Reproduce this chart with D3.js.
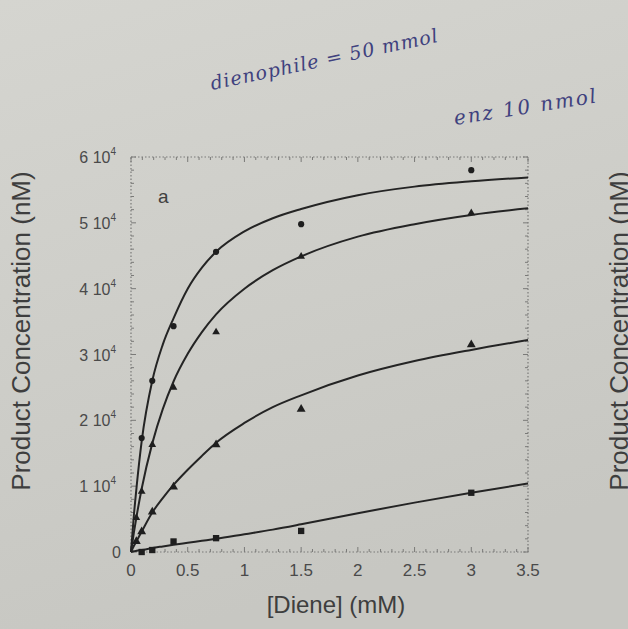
<!DOCTYPE html>
<html>
<head>
<meta charset="utf-8">
<script src="https://cdn.jsdelivr.net/npm/d3@7"></script>
<style>
  html, body { margin: 0; padding: 0; }
  body { width: 628px; height: 629px; overflow: hidden; }
  svg { display: block; }
</style>
</head>
<body>
<svg id="chart" width="628" height="629"></svg>
<script>
// diene concentrations (mM) where points were measured
const conc = [0.047, 0.094, 0.1875, 0.375, 0.75, 1.5, 3];

// measured product (x 10^4 nM), null = no marker visible
const pts1 = [null, 1.73, 2.6, 3.43, 4.56, 4.98, 5.8];
const pts2 = [0.52, 0.92, 1.63, 2.5, 3.34, 4.49, 5.15];
const pts3 = [0.16, 0.31, 0.61, 0.99, 1.63, 2.17, 3.15];
const pts4 = [null, 0.0, 0.03, 0.16, 0.21, 0.32, 0.9];

// fitted curves (x 10^4 nM)
const fitX = [0, 0.025, 0.05, 0.094, 0.1875, 0.28, 0.375, 0.5, 0.625, 0.75, 1, 1.25, 1.5, 2, 2.5, 3, 3.5];
const fit1 = [0, 0.55, 1.0, 1.68, 2.6, 3.15, 3.55, 4.0, 4.32, 4.56, 4.87, 5.07, 5.21, 5.42, 5.55, 5.63, 5.69];
const fit2 = [0, 0.29, 0.55, 0.96, 1.65, 2.17, 2.59, 3.01, 3.34, 3.61, 4.0, 4.28, 4.49, 4.79, 4.98, 5.12, 5.22];
const fit3 = [0, 0.09, 0.17, 0.31, 0.6, 0.82, 1.02, 1.25, 1.46, 1.66, 1.96, 2.2, 2.38, 2.68, 2.9, 3.07, 3.22];
const fit4 = [0, 0.01, 0.02, 0.03, 0.06, 0.085, 0.11, 0.14, 0.17, 0.2, 0.27, 0.34, 0.42, 0.59, 0.75, 0.9, 1.04];

const xTicks = [0, 0.5, 1, 1.5, 2, 2.5, 3, 3.5];
const xTickLabels = ["0", "0.5", "1", "1.5", "2", "2.5", "3", "3.5"];
const yTicks = [0, 1, 2, 3, 4, 5, 6];

const svg = d3.select("#chart");

// paper background
const defs = svg.append("defs");
const grad = defs.append("linearGradient")
  .attr("id", "paper")
  .attr("x1", 0).attr("y1", 0).attr("x2", 0.3).attr("y2", 1);
grad.append("stop").attr("offset", "0%").attr("stop-color", "#d5d5d0");
grad.append("stop").attr("offset", "100%").attr("stop-color", "#c7c7c2");
svg.append("rect").attr("width", 628).attr("height", 629).attr("fill", "url(#paper)");

const x = d3.scaleLinear().domain([0, 3.5]).range([131, 528]);
const y = d3.scaleLinear().domain([0, 6]).range([552, 157]);

const frameColor = "#7a7a78";
const g = svg.append("g");

// dotted frame
g.append("rect")
  .attr("x", x(0)).attr("y", y(6))
  .attr("width", x(3.5) - x(0)).attr("height", y(0) - y(6))
  .attr("fill", "none")
  .attr("stroke", frameColor)
  .attr("stroke-width", 1.2)
  .attr("stroke-dasharray", "1.5,2");

// inward ticks on all four sides
const xMinor = d3.range(0, 3.501, 0.1);
const yMinor = d3.range(0, 6.001, 0.2);
const tickG = g.append("g").attr("stroke", frameColor).attr("stroke-width", 1);
const isMajor = (v, step) => Math.abs(v / step - Math.round(v / step)) < 1e-6;

xMinor.forEach((v) => {
  const len = isMajor(v, 0.5) ? 5 : 3;
  tickG.append("line").attr("x1", x(v)).attr("x2", x(v)).attr("y1", y(0)).attr("y2", y(0) - len);
  tickG.append("line").attr("x1", x(v)).attr("x2", x(v)).attr("y1", y(6)).attr("y2", y(6) + len);
});
yMinor.forEach((v) => {
  const len = isMajor(v, 1) ? 5 : 3;
  tickG.append("line").attr("y1", y(v)).attr("y2", y(v)).attr("x1", x(0)).attr("x2", x(0) + len);
  tickG.append("line").attr("y1", y(v)).attr("y2", y(v)).attr("x1", x(3.5)).attr("x2", x(3.5) - len);
});

// tick labels
const labelColor = "#4a4a4a";
g.append("g").selectAll("text")
  .data(xTicks)
  .enter()
  .append("text")
  .attr("x", (d) => x(d))
  .attr("y", 576)
  .attr("text-anchor", "middle")
  .attr("font-family", "Liberation Sans, Arial, sans-serif")
  .attr("font-size", 17)
  .attr("fill", labelColor)
  .text((d, i) => xTickLabels[i]);

const yLab = g.append("g").selectAll("text")
  .data(yTicks)
  .enter()
  .append("text")
  .attr("x", (d) => (d === 0 ? 121 : 116))
  .attr("y", (d) => y(d) + 6)
  .attr("text-anchor", "end")
  .attr("font-family", "Liberation Sans, Arial, sans-serif")
  .attr("font-size", 16)
  .attr("fill", labelColor);
yLab.filter((d) => d === 0).text("0");
yLab.filter((d) => d !== 0).each(function (d) {
  const t = d3.select(this);
  t.append("tspan").text(d + " 10");
  t.append("tspan").attr("font-size", 10).attr("dy", -8).text("4");
});

// axis titles
g.append("text")
  .attr("x", 336).attr("y", 613)
  .attr("text-anchor", "middle")
  .attr("font-family", "Liberation Sans, Arial, sans-serif")
  .attr("font-size", 24)
  .attr("fill", "#3e3e3e")
  .text("[Diene] (mM)");

const yTitle = (cx) => g.append("text")
  .attr("transform", `translate(${cx},331) rotate(-90)`)
  .attr("text-anchor", "middle")
  .attr("font-family", "Liberation Sans, Arial, sans-serif")
  .attr("font-size", 26)
  .attr("fill", "#3e3e3e")
  .text("Product Concentration (nM)");
yTitle(30);
yTitle(628); // neighbouring panel, cut by the page edge as in the photo

g.append("text")
  .attr("x", 158).attr("y", 203)
  .attr("font-family", "Liberation Sans, Arial, sans-serif")
  .attr("font-size", 19)
  .attr("fill", "#404040")
  .text("a");

// fitted curves
const line = d3.line()
  .x((d) => x(d[0]))
  .y((d) => y(d[1]))
  .curve(d3.curveMonotoneX);

[fit1, fit2, fit3, fit4].forEach((fit) => {
  g.append("path")
    .datum(fitX.map((v, i) => [v, fit[i]]))
    .attr("d", line)
    .attr("fill", "none")
    .attr("stroke", "#242424")
    .attr("stroke-width", 2);
});

// markers
const series = [
  { vals: pts1, sym: d3.symbolCircle, size: 30 },
  { vals: pts2, sym: d3.symbolTriangle, size: 26 },
  { vals: pts3, sym: d3.symbolTriangle, size: 34 },
  { vals: pts4, sym: d3.symbolSquare, size: 40 },
];
series.forEach((s) => {
  g.append("g").selectAll("path")
    .data(conc.map((c, i) => [c, s.vals[i]]).filter((d) => d[1] !== null))
    .enter()
    .append("path")
    .attr("transform", (d) => `translate(${x(d[0])},${y(d[1])})`)
    .attr("d", d3.symbol().type(s.sym).size(s.size))
    .attr("fill", "#1e1e1e");
});

// handwritten notes on the page
const ink = "#3f417e";
svg.append("text")
  .attr("transform", "translate(212,90) rotate(-12)")
  .attr("font-family", "DejaVu Serif, serif")
  .attr("font-style", "italic")
  .attr("font-size", 19)
  .attr("letter-spacing", 1)
  .attr("fill", ink)
  .text("dienophile = 50 mmol");
svg.append("text")
  .attr("transform", "translate(455,125) rotate(-9)")
  .attr("font-family", "DejaVu Serif, serif")
  .attr("font-style", "italic")
  .attr("font-size", 20)
  .attr("letter-spacing", 2)
  .attr("fill", ink)
  .text("enz  10 nmol");
</script>
</body>
</html>
